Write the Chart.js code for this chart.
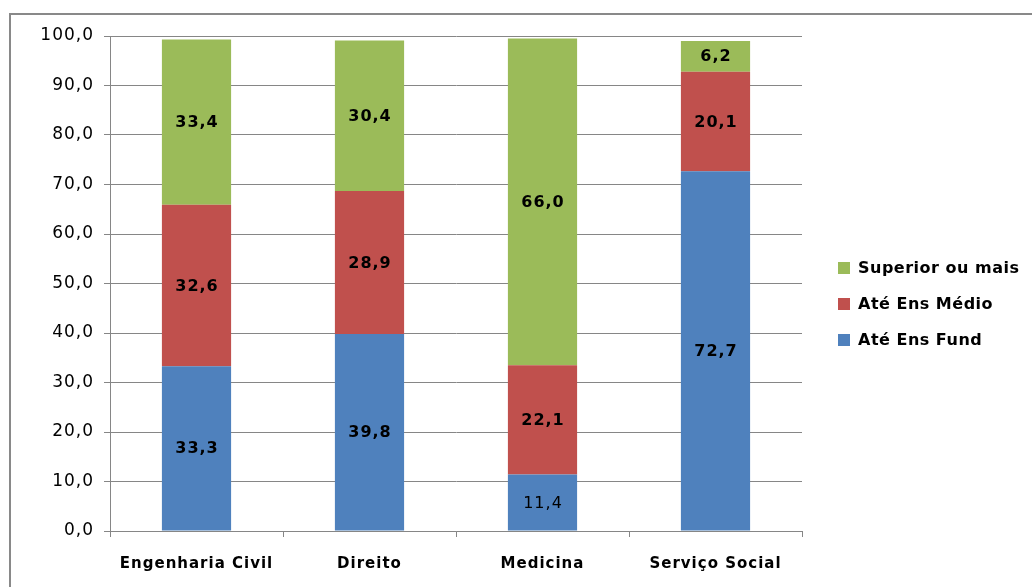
<!DOCTYPE html>
<html>
<head>
<meta charset="utf-8">
<title>Escolaridade por curso</title>
<script src="https://cdn.jsdelivr.net/npm/chart.js@4"></script>
<style>
  html, body { margin: 0; padding: 0; background: #fff; }
  #wrap { position: relative; width: 1032px; height: 587px; overflow: hidden; }
  #frame {
    position: absolute; left: 9px; top: 13px; width: 1100px; height: 700px;
    border-top: 2px solid #898989; border-left: 2px solid #898989;
    pointer-events: none;
  }
  canvas { position: absolute; left: 0; top: 0; }
</style>
</head>
<body>
<div id="wrap">
  <div id="frame"></div>
  <canvas id="chart" width="1032" height="587"></canvas>
</div>
<script>
// Cursos e distribuição (%) da escolaridade
const categories = ['Engenharia Civil', 'Direito', 'Medicina', 'Serviço Social'];
const seriesNames = ['Até Ens Fund', 'Até Ens Médio', 'Superior ou mais'];
const ateEnsFund = [33.3, 39.8, 11.4, 72.7];
const ateEnsMedio = [32.6, 28.9, 22.1, 20.1];
const superiorOuMais = [33.4, 30.4, 66.0, 6.2];
const yTicks = [0, 10, 20, 30, 40, 50, 60, 70, 80, 90, 100];

const colors = ['#4F81BD', '#C0504D', '#9BBB59'];
const fmt = v => v.toFixed(1).replace('.', ',');
const FONT = '"DejaVu Sans", Verdana, sans-serif';

// Slightly wider letter spacing for the axis text
const axisSpacing = {
  id: 'axisSpacing',
  beforeDraw(chart) { chart.ctx.letterSpacing = '1px'; },
  beforeDatasetsDraw(chart) { chart.ctx.letterSpacing = '0px'; }
};

// Value labels centred in each bar segment
const valueLabels = {
  id: 'valueLabels',
  afterDatasetsDraw(chart) {
    const ctx = chart.ctx;
    ctx.save();
    ctx.letterSpacing = '1px';
    ctx.textAlign = 'center';
    ctx.textBaseline = 'middle';
    ctx.fillStyle = '#000';
    chart.data.datasets.forEach((ds, di) => {
      const meta = chart.getDatasetMeta(di);
      meta.data.forEach((bar, i) => {
        const light = (di === 0 && i === 2);
        ctx.font = (light ? 'normal ' : 'bold ') + '16px ' + FONT;
        ctx.fillText(fmt(ds.data[i]), bar.x + 0.5, (bar.y + bar.base) / 2 + 1);
      });
    });
    ctx.restore();
  }
};

// Legend on the right, top entry is the last series
const sideLegend = {
  id: 'sideLegend',
  afterDraw(chart) {
    const ctx = chart.ctx;
    const ds = chart.data.datasets.slice().reverse();
    const x = 838, y0 = 268, step = 36;
    ctx.save();
    ctx.letterSpacing = '0.5px';
    ctx.font = 'bold 16px ' + FONT;
    ctx.textBaseline = 'middle';
    ctx.textAlign = 'left';
    ds.forEach((d, k) => {
      const y = y0 + k * step;
      ctx.fillStyle = d.backgroundColor;
      ctx.fillRect(x, y - 6, 12, 12);
      ctx.fillStyle = '#000';
      ctx.fillText(d.label, x + 20, y + 1);
    });
    ctx.restore();
  }
};

const seriesData = [ateEnsFund, ateEnsMedio, superiorOuMais];

new Chart(document.getElementById('chart'), {
  type: 'bar',
  data: {
    labels: categories,
    datasets: seriesData.map((vals, i) => ({
      label: seriesNames[i],
      data: vals,
      backgroundColor: colors[i],
      borderWidth: 0,
      barPercentage: 0.4,
      categoryPercentage: 1.0
    }))
  },
  options: {
    responsive: false,
    animation: false,
    devicePixelRatio: 1,
    layout: { padding: { left: 0, top: 36, right: 230, bottom: 0 } },
    plugins: {
      legend: { display: false },
      tooltip: { enabled: false }
    },
    scales: {
      x: {
        stacked: true,
        offset: true,
        grid: {
          offset: true,
          drawOnChartArea: false,
          drawTicks: true,
          tickLength: 6,
          color: '#868686'
        },
        border: { color: '#868686', width: 1 },
        ticks: {
          color: '#000',
          padding: 18,
          font: { family: FONT, size: 15, weight: 'bold' }
        },
        afterFit(scale) { scale.height = 56; }
      },
      y: {
        stacked: true,
        min: 0,
        max: 100,
        afterBuildTicks(scale) { scale.ticks = yTicks.map(v => ({ value: v })); },
        ticks: {
          color: '#000',
          padding: 10,
          font: { family: FONT, size: 17 },
          callback: v => fmt(v)
        },
        grid: { color: '#868686', tickLength: 6, lineWidth: 1 },
        border: { color: '#868686', width: 1 },
        afterFit(scale) { scale.width = 110; }
      }
    }
  },
  plugins: [axisSpacing, valueLabels, sideLegend]
});
</script>
</body>
</html>
